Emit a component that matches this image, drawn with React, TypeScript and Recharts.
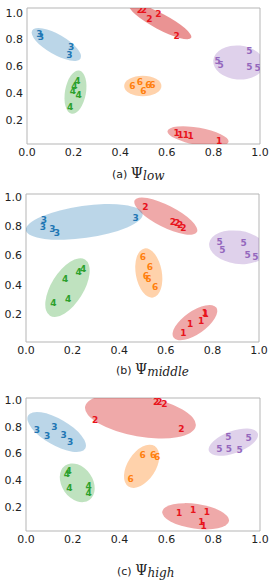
import React from "react"
import { ScatterChart, Scatter, XAxis, YAxis, ReferenceArea } from "recharts"

const X_TICKS = [0, 0.2, 0.4, 0.6, 0.8, 1.0]
const Y_TICKS = [0.2, 0.4, 0.6, 0.8, 1.0]

// cluster colours (matplotlib tab palette)
const TEXT_COLORS: Record<number, string> = {
  1: "#e8141c",
  2: "#e8141c",
  3: "#1f77b4",
  4: "#2ca02c",
  5: "#9467bd",
  6: "#ff7f0e",
}
const FILL_COLORS: Record<number, string> = {
  1: "#d62728",
  2: "#d62728",
  3: "#1f77b4",
  4: "#2ca02c",
  5: "#9467bd",
  6: "#ff7f0e",
}
const FILL_OPACITY: Record<number, number> = { 1: 0.4, 2: 0.4, 3: 0.3, 4: 0.3, 5: 0.3, 6: 0.35 }

interface Pt {
  c: number
  x: number
  y: number
}

// a, b = semi axes (x units), angle in degrees
interface Ell {
  c: number
  x: number
  y: number
  a: number
  b: number
  angle: number
}

const LOW_POINTS: Pt[] = [
  { c: 1, x: 0.642, y: 0.102 },
  { c: 1, x: 0.658, y: 0.09 },
  { c: 1, x: 0.682, y: 0.09 },
  { c: 1, x: 0.702, y: 0.077 },
  { c: 1, x: 0.825, y: 0.04 },
  { c: 2, x: 0.485, y: 1.02 },
  { c: 2, x: 0.502, y: 1.02 },
  { c: 2, x: 0.525, y: 0.955 },
  { c: 2, x: 0.564, y: 0.987 },
  { c: 2, x: 0.642, y: 0.823 },
  { c: 3, x: 0.053, y: 0.84 },
  { c: 3, x: 0.06, y: 0.815 },
  { c: 3, x: 0.189, y: 0.741 },
  { c: 3, x: 0.182, y: 0.687 },
  { c: 4, x: 0.216, y: 0.487 },
  { c: 4, x: 0.203, y: 0.455 },
  { c: 4, x: 0.197, y: 0.413 },
  { c: 4, x: 0.222, y: 0.383 },
  { c: 4, x: 0.185, y: 0.293 },
  { c: 5, x: 0.954, y: 0.716 },
  { c: 5, x: 0.818, y: 0.642 },
  { c: 5, x: 0.831, y: 0.61 },
  { c: 5, x: 0.954, y: 0.592 },
  { c: 5, x: 0.99, y: 0.584 },
  { c: 6, x: 0.452, y: 0.455 },
  { c: 6, x: 0.485, y: 0.483 },
  { c: 6, x: 0.499, y: 0.418 },
  { c: 6, x: 0.521, y: 0.46 },
  { c: 6, x: 0.538, y: 0.46 },
]

const LOW_ELLIPSES: Ell[] = [
  { c: 1, x: 0.734, y: 0.077, a: 0.133, b: 0.037, angle: -10 },
  { c: 2, x: 0.572, y: 0.935, a: 0.15, b: 0.034, angle: -28 },
  { c: 3, x: 0.126, y: 0.763, a: 0.12, b: 0.043, angle: -30 },
  { c: 4, x: 0.208, y: 0.407, a: 0.094, b: 0.045, angle: 80 },
  { c: 5, x: 0.908, y: 0.628, a: 0.109, b: 0.073, angle: -5 },
  { c: 6, x: 0.497, y: 0.453, a: 0.08, b: 0.044, angle: 0 },
]

const MIDDLE_POINTS: Pt[] = [
  { c: 1, x: 0.768, y: 0.207 },
  { c: 1, x: 0.771, y: 0.202 },
  { c: 1, x: 0.752, y: 0.152 },
  { c: 1, x: 0.704, y: 0.136 },
  { c: 1, x: 0.675, y: 0.071 },
  { c: 2, x: 0.512, y: 0.932 },
  { c: 2, x: 0.63, y: 0.83 },
  { c: 2, x: 0.649, y: 0.823 },
  { c: 2, x: 0.661, y: 0.808 },
  { c: 2, x: 0.675, y: 0.789 },
  { c: 3, x: 0.077, y: 0.84 },
  { c: 3, x: 0.072, y: 0.796 },
  { c: 3, x: 0.113, y: 0.782 },
  { c: 3, x: 0.133, y: 0.751 },
  { c: 3, x: 0.471, y: 0.857 },
  { c: 4, x: 0.226, y: 0.49 },
  { c: 4, x: 0.245, y: 0.508 },
  { c: 4, x: 0.168, y: 0.438 },
  { c: 4, x: 0.181, y: 0.302 },
  { c: 4, x: 0.117, y: 0.279 },
  { c: 5, x: 0.831, y: 0.69 },
  { c: 5, x: 0.843, y: 0.637 },
  { c: 5, x: 0.934, y: 0.683 },
  { c: 5, x: 0.951, y: 0.601 },
  { c: 5, x: 0.984, y: 0.592 },
  { c: 6, x: 0.502, y: 0.592 },
  { c: 6, x: 0.532, y: 0.522 },
  { c: 6, x: 0.514, y: 0.463 },
  { c: 6, x: 0.525, y: 0.438 },
  { c: 6, x: 0.554, y: 0.388 },
]

const MIDDLE_ELLIPSES: Ell[] = [
  { c: 1, x: 0.725, y: 0.144, a: 0.112, b: 0.049, angle: 35 },
  { c: 2, x: 0.6, y: 0.867, a: 0.15, b: 0.047, angle: -27 },
  { c: 3, x: 0.25, y: 0.828, a: 0.253, b: 0.069, angle: 8 },
  { c: 4, x: 0.178, y: 0.382, a: 0.142, b: 0.069, angle: 58 },
  { c: 5, x: 0.909, y: 0.656, a: 0.124, b: 0.071, angle: -8 },
  { c: 6, x: 0.527, y: 0.481, a: 0.107, b: 0.056, angle: 100 },
]

const HIGH_POINTS: Pt[] = [
  { c: 1, x: 0.654, y: 0.159 },
  { c: 1, x: 0.714, y: 0.179 },
  { c: 1, x: 0.773, y: 0.164 },
  { c: 1, x: 0.749, y: 0.092 },
  { c: 1, x: 0.759, y: 0.057 },
  { c: 2, x: 0.556, y: 0.983 },
  { c: 2, x: 0.57, y: 0.983 },
  { c: 2, x: 0.591, y: 0.972 },
  { c: 2, x: 0.295, y: 0.851 },
  { c: 2, x: 0.664, y: 0.781 },
  { c: 3, x: 0.047, y: 0.778 },
  { c: 3, x: 0.121, y: 0.801 },
  { c: 3, x: 0.09, y: 0.731 },
  { c: 3, x: 0.161, y: 0.739 },
  { c: 3, x: 0.189, y: 0.684 },
  { c: 4, x: 0.182, y: 0.472 },
  { c: 4, x: 0.175, y: 0.45 },
  { c: 4, x: 0.185, y: 0.341 },
  { c: 4, x: 0.268, y: 0.36 },
  { c: 4, x: 0.268, y: 0.304 },
  { c: 5, x: 0.865, y: 0.721 },
  { c: 5, x: 0.951, y: 0.714 },
  { c: 5, x: 0.826, y: 0.632 },
  { c: 5, x: 0.867, y: 0.632 },
  { c: 5, x: 0.913, y: 0.627 },
  { c: 6, x: 0.498, y: 0.587 },
  { c: 6, x: 0.543, y: 0.587 },
  { c: 6, x: 0.56, y: 0.577 },
  { c: 6, x: 0.447, y: 0.408 },
]

const HIGH_ELLIPSES: Ell[] = [
  { c: 1, x: 0.725, y: 0.132, a: 0.144, b: 0.053, angle: -8 },
  { c: 2, x: 0.489, y: 0.878, a: 0.24, b: 0.086, angle: -10 },
  { c: 3, x: 0.131, y: 0.761, a: 0.141, b: 0.056, angle: -30 },
  { c: 4, x: 0.219, y: 0.382, a: 0.09, b: 0.066, angle: -55 },
  { c: 5, x: 0.886, y: 0.685, a: 0.111, b: 0.047, angle: 20 },
  { c: 6, x: 0.494, y: 0.505, a: 0.103, b: 0.06, angle: 57 },
]

const SANS = "'DejaVu Sans', sans-serif"
const SERIF = "'DejaVu Serif', serif"
const CHART_W = 272
const AXIS_H = 18

interface PanelProps {
  top: number
  plotTop: number
  plotBottom: number
  left: number
  right: number
  yDomain: [number, number]
  points: Pt[]
  ellipses: Ell[]
  darkTop?: boolean
}

function Panel({ top, plotTop, plotBottom, left, right, yDomain, points, ellipses, darkTop }: PanelProps) {
  const plotW = right - left
  const height = plotBottom - top + AXIS_H

  const ellipseShape = (props: any) => {
    const { cx, cy, payload } = props
    const op = darkTop && payload.c === 2 ? 0.5 : FILL_OPACITY[payload.c]
    return (
      <ellipse
        cx={cx}
        cy={cy}
        rx={payload.a * plotW}
        ry={payload.b * plotW}
        transform={`rotate(${-payload.angle} ${cx} ${cy})`}
        fill={FILL_COLORS[payload.c]}
        fillOpacity={op}
      />
    )
  }

  const labelShape = (props: any) => {
    const { cx, cy, payload } = props
    return (
      <text
        x={cx}
        y={cy}
        textAnchor="middle"
        dominantBaseline="central"
        fill={TEXT_COLORS[payload.c]}
        fontSize={9}
        fontWeight="bold"
        fontFamily={SANS}
      >
        {payload.c}
      </text>
    )
  }

  return (
    <div style={{ position: "absolute", left: 0, top }}>
      <ScatterChart
        width={CHART_W}
        height={height}
        margin={{ top: plotTop - top, right: CHART_W - right, bottom: 0, left: 0 }}
      >
        <XAxis
          type="number"
          dataKey="x"
          domain={[0, 1]}
          ticks={X_TICKS}
          allowDataOverflow
          height={AXIS_H}
          axisLine={false}
          tickLine={false}
          tickSize={0}
          tickMargin={4}
          tickFormatter={(v) => Number(v).toFixed(1)}
          tick={{ fontSize: 11, fill: "#222", fontFamily: SANS }}
        />
        <YAxis
          type="number"
          dataKey="y"
          domain={yDomain}
          ticks={Y_TICKS}
          allowDataOverflow
          width={left}
          axisLine={false}
          tickLine={false}
          tickSize={0}
          tickMargin={4}
          tickFormatter={(v) => Number(v).toFixed(1)}
          tick={{ fontSize: 11, fill: "#222", fontFamily: SANS }}
        />
        <ReferenceArea
          x1={0}
          x2={1}
          y1={yDomain[0]}
          y2={yDomain[1]}
          fill="none"
          stroke="#b5b5b5"
          strokeWidth={1}
          ifOverflow="visible"
        />
        <Scatter data={ellipses} shape={ellipseShape} isAnimationActive={false} />
        <Scatter data={points} shape={labelShape} isAnimationActive={false} />
      </ScatterChart>
    </div>
  )
}

function Caption({ left, top, tag, sub }: { left: number; top: number; tag: string; sub: string }) {
  return (
    <div
      style={{
        position: "absolute",
        left,
        top,
        fontFamily: SANS,
        fontSize: 11,
        color: "#222",
        whiteSpace: "nowrap",
        lineHeight: "14px",
      }}
    >
      {tag}{" "}
      <span style={{ fontFamily: SERIF, fontSize: 14 }}>Ψ</span>
      <span style={{ fontFamily: SERIF, fontStyle: "italic", fontSize: 12, position: "relative", top: 2 }}>
        {sub}
      </span>
    </div>
  )
}

export default function App() {
  return (
    <div style={{ position: "absolute", left: 0, top: 0, width: 272, height: 583, background: "#fff" }}>
      <Panel
        top={0}
        plotTop={8}
        plotBottom={144}
        left={27}
        right={260}
        yDomain={[0.02, 1.035]}
        points={LOW_POINTS}
        ellipses={LOW_ELLIPSES}
        darkTop
      />
      <Caption left={112} top={166} tag="(a)" sub="low" />
      <Panel
        top={186}
        plotTop={194}
        plotBottom={342}
        left={26}
        right={259}
        yDomain={[0.012, 1.018]}
        points={MIDDLE_POINTS}
        ellipses={MIDDLE_ELLIPSES}
      />
      <Caption left={116} top={362} tag="(b)" sub="middle" />
      <Panel
        top={390}
        plotTop={398}
        plotBottom={531}
        left={26}
        right={260}
        yDomain={[0.022, 1.015]}
        points={HIGH_POINTS}
        ellipses={HIGH_ELLIPSES}
      />
      <Caption left={117} top={563} tag="(c)" sub="high" />
    </div>
  )
}
